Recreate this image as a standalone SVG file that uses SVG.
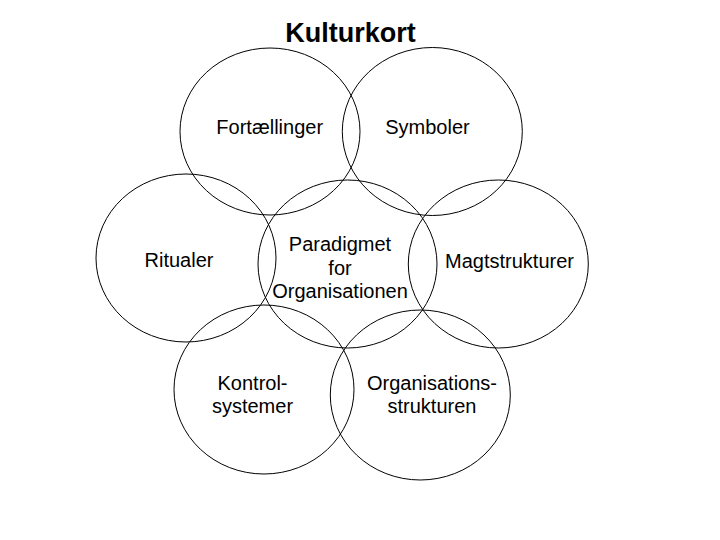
<svg xmlns="http://www.w3.org/2000/svg" width="720" height="540" viewBox="0 0 720 540">
<style>
  .c { fill: none; stroke: #000; stroke-width: 1; }
  .t { font-family: "Liberation Sans", Arial, sans-serif; font-size: 20px; fill: #000; text-anchor: middle; }
  .title { font-family: "Liberation Sans", Arial, sans-serif; font-size: 27px; font-weight: bold; fill: #000; text-anchor: middle; }
</style>
<rect width="720" height="540" fill="#fff"/>
<text class="title" x="350.5" y="42">Kulturkort</text>
<g id="fortaellinger">
  <ellipse class="c" cx="270" cy="131.5" rx="90" ry="83.5"/>
  <text class="t" x="269.7" y="134">Fortællinger</text>
</g>
<g id="symboler">
  <ellipse class="c" cx="432.3" cy="131.5" rx="90" ry="84"/>
  <text class="t" x="427.5" y="134">Symboler</text>
</g>
<g id="ritualer">
  <ellipse class="c" cx="186" cy="258" rx="90" ry="84"/>
  <text class="t" x="179" y="267">Ritualer</text>
</g>
<g id="paradigmet">
  <ellipse class="c" cx="347.5" cy="264" rx="89.5" ry="84"/>
  <text class="t" x="340" y="251">Paradigmet</text>
  <text class="t" x="340" y="275">for</text>
  <text class="t" x="340" y="298">Organisationen</text>
</g>
<g id="magtstrukturer">
  <ellipse class="c" cx="498.3" cy="264" rx="90" ry="84"/>
  <text class="t" x="509.5" y="268">Magtstrukturer</text>
</g>
<g id="kontrolsystemer">
  <ellipse class="c" cx="264" cy="389.5" rx="90" ry="84.5"/>
  <text class="t" x="252.5" y="390">Kontrol-</text>
  <text class="t" x="252.5" y="413">systemer</text>
</g>
<g id="organisationsstrukturen">
  <ellipse class="c" cx="420.3" cy="395" rx="90" ry="85"/>
  <text class="t" x="432" y="390">Organisations-</text>
  <text class="t" x="432" y="413">strukturen</text>
</g>
<g id="connectors"></g>
</svg>
